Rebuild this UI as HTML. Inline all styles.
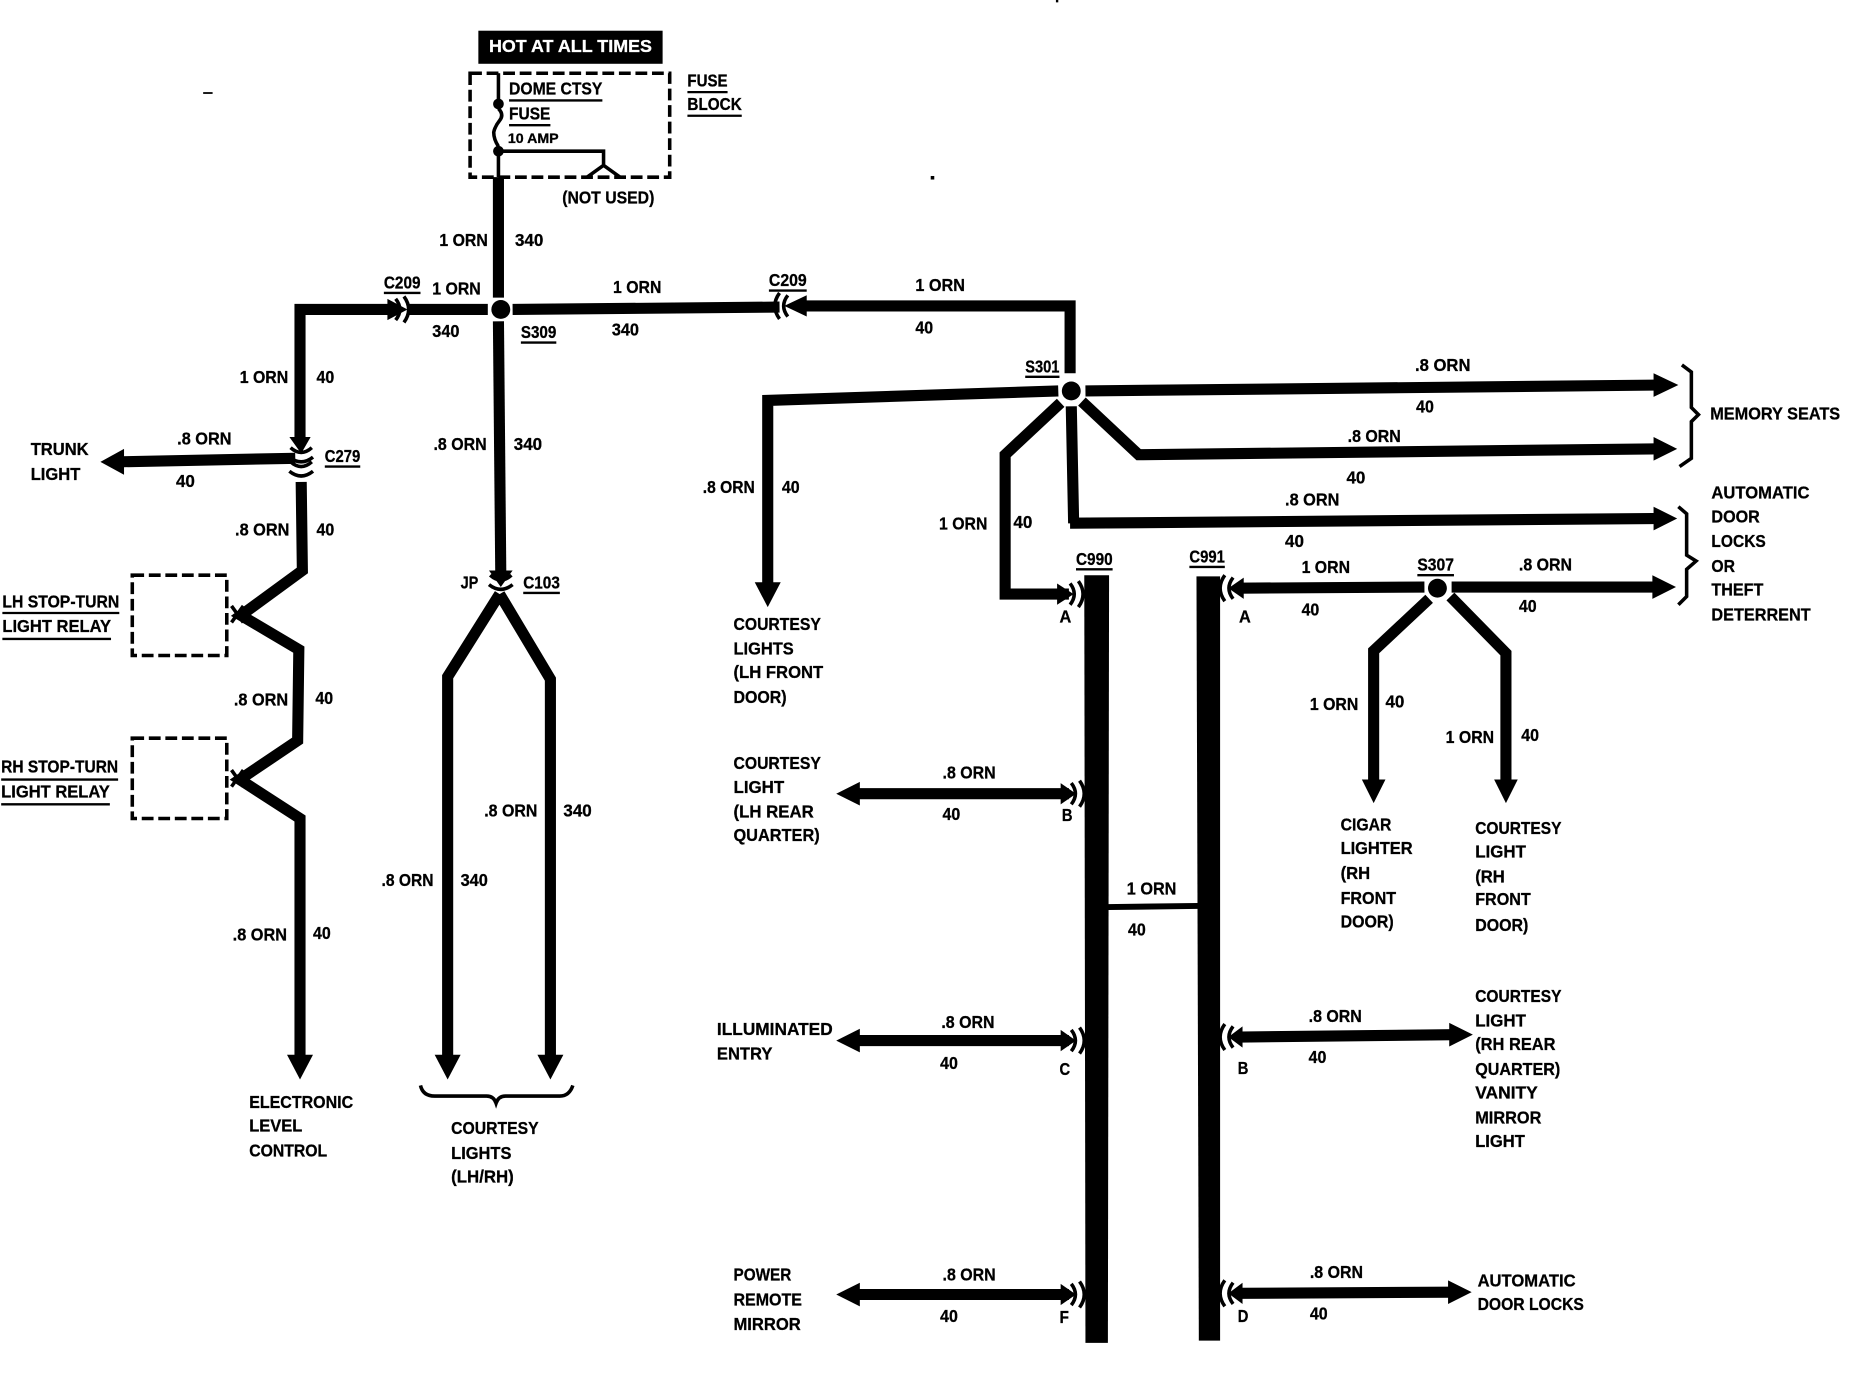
<!DOCTYPE html>
<html><head><meta charset="utf-8"><style>
html,body{margin:0;padding:0;background:#fff}
svg{display:block}
text{font-family:"Liberation Sans",sans-serif;font-weight:700;font-size:15px;fill:#000;stroke:#000;stroke-width:.25}
.w{fill:none;stroke:#000;stroke-width:9.4;stroke-linejoin:miter}
.u{fill:none;stroke:#000;stroke-width:2}
.c{fill:none;stroke:#000;stroke-width:3}
.d{fill:none;stroke:#000;stroke-width:3;stroke-dasharray:10 4}
</style></head><body>
<svg xmlns="http://www.w3.org/2000/svg" width="1852" height="1376" viewBox="0 0 1568 1165">
<rect width="1568" height="1165" fill="#fff"/>
<defs>
<g id="cr"><path class="c" d="M-7,-9 Q0,0 -7,9M0,-11 Q8,0 0,11"/></g>
<g id="cl"><path class="c" d="M7,-9 Q0,0 7,9M0,-11 Q-8,0 0,11"/></g>
<g id="cd"><path class="c" d="M-9,-7 Q0,1 9,-7M-10,1 Q0,9 10,1"/></g>
</defs>

<!-- header / fuse block -->
<rect x="405" y="26" width="156" height="28" fill="#000"/>
<rect class="d" x="398" y="62" width="169" height="88"/>
<path class="c" d="M422,62V88"/>
<circle cx="422" cy="88" r="4.5"/>
<path class="c" stroke-width="2" d="M422,92q5,5 1,10t-5,10q0,6 4,12"/>
<circle cx="422" cy="128" r="4.5"/>
<path class="c" d="M422,128V150M422,128H511V141M497,150L511,140L525,150"/>

<!-- main wires -->
<path class="w" d="M422,150V252"/>
<path class="w" d="M336,262H254V372"/>
<path class="w" d="M345,262H413M434,262L660,260"/>
<path class="w" d="M680,259H906V316"/>
<circle cx="424" cy="262" r="8"/>
<path class="w" d="M422,272L424,488"/>
<polygon points="328,253 345,262 328,271"/>
<use href="#cr" x="342" y="262"/>
<polygon points="683,250 664,259 683,268"/>
<use href="#cl" x="660" y="259"/>

<!-- left column -->
<polygon points="245,370 263,370 255,384"/>
<use href="#cd" x="255" y="386"/>
<use href="#cd" x="255" y="398"/>
<path class="w" d="M250,388L100,391"/>
<polygon points="105,380 85,391 105,402"/>
<path class="w" d="M255,408L256,483L204,521L253,550L252,627L203,660L254,693V895"/>
<polygon points="243,893 265,893 254,914"/>
<rect class="d" x="112" y="487" width="80" height="68" stroke-width="2.5"/>
<rect class="d" x="112" y="625" width="80" height="68" stroke-width="2.5"/>
<path class="c" d="M196,513L206,527M196,527L206,513M196,652L206,666M196,666L206,652"/>

<!-- center Y -->
<polygon points="414,483 434,483 424,497"/>
<use href="#cd" x="424" y="494"/>
<path class="w" d="M423,503L379,573V895M423,503L466,575V895"/>
<polygon points="368,893 390,893 379,914"/>
<polygon points="455,893 477,893 466,914"/>
<path class="c" stroke-width="2" d="M356,919Q358,928 368,928H412Q418,928 420,934Q422,928 428,928H474Q482,928 485,919"/>

<!-- S301 -->
<circle cx="907" cy="331" r="8"/>
<path class="w" d="M896,331L650,339V495"/>
<polygon points="639,493 661,493 650,514"/>
<path class="w" d="M919,331L1405,326"/>
<polygon points="1400,316 1421,326 1400,336"/>
<path class="w" d="M916,340L964,385L1405,380"/>
<polygon points="1400,370 1420,380 1400,390"/>
<path class="w" d="M907,344L909,443L906,443L1405,439"/>
<polygon points="1400,429 1420,439 1400,449"/>
<path class="w" d="M898,341L851,385V503H905"/>
<polygon points="895,494 909,503 895,512"/>
<use href="#cr" x="913" y="503"/>

<!-- braces -->
<path class="c" stroke-width="2" d="M1424,309L1432,315V345L1438,351L1432,357V388L1422,395"/>
<path class="c" stroke-width="2" d="M1421,429L1428,435V470L1436,475L1428,482V505L1421,512"/>

<!-- bars -->
<polygon points="918,487 939,487 938,1137 919,1137"/>
<polygon points="1013,488 1033,488 1033,1135 1015,1135"/>
<path fill="none" stroke="#000" stroke-width="5" d="M938,768L1014,767"/>

<!-- S307 -->
<circle cx="1217" cy="498" r="8"/>
<path class="w" d="M1048,498L1206,497"/>
<polygon points="1053,489 1040,498 1053,507"/>
<use href="#cl" x="1037" y="498"/>
<path class="w" d="M1229,497H1405"/>
<polygon points="1399,487 1419,497 1399,507"/>
<path class="w" d="M1210,507L1163,551V662"/>
<polygon points="1153,660 1173,660 1163,680"/>
<path class="w" d="M1228,505L1275,553V662"/>
<polygon points="1265,660 1285,660 1275,680"/>

<!-- horizontals -->
<path class="w" d="M725,672H905"/><polygon points="728,662 708,672 728,682"/>
<polygon points="898,663 911,672 898,681"/><use href="#cr" x="914" y="672"/>
<path class="w" d="M725,881H905"/><polygon points="728,871 708,881 728,891"/>
<polygon points="898,872 911,881 898,890"/><use href="#cr" x="914" y="881"/>
<path class="w" d="M725,1096H905"/><polygon points="728,1086 708,1096 728,1106"/>
<polygon points="898,1087 911,1096 898,1105"/><use href="#cr" x="914" y="1096"/>
<path class="w" d="M1050,878L1230,876"/><polygon points="1227,866 1247,876 1227,886"/>
<polygon points="1052,869 1040,878 1052,887"/><use href="#cl" x="1037" y="878"/>
<path class="w" d="M1050,1095L1230,1094"/><polygon points="1226,1084 1246,1094 1226,1104"/>
<polygon points="1052,1086 1040,1095 1052,1104"/><use href="#cl" x="1037" y="1095"/>

<!-- underlines -->
<path class="u" d="M431,85H510M431,106H466M582,78H616M582,98H628M325,248H356M441,290H471M651,246H683M868,319H897M275,395H305M2,519H101M2,541H94M1,660H100M1,681H93M443,502H474M911,482H942M1007,480H1037M1200,487H1231"/>

<!-- specks -->
<rect x="172" y="78" width="8" height="1.5"/><rect x="788" y="149" width="3" height="3"/><rect x="894" y="0" width="2" height="2"/>

<!-- text -->
<g transform="translate(0,-0.8)">
<text x="414" y="45" textLength="138" lengthAdjust="spacingAndGlyphs" style="fill:#fff;stroke:#fff">HOT AT ALL TIMES</text>
<text x="431" y="81" textLength="79" lengthAdjust="spacingAndGlyphs">DOME CTSY</text>
<text x="431" y="102" textLength="35" lengthAdjust="spacingAndGlyphs">FUSE</text>
<text x="430" y="122" textLength="43" lengthAdjust="spacingAndGlyphs" style="font-size:12px">10 AMP</text>
<text x="582" y="74" textLength="34" lengthAdjust="spacingAndGlyphs">FUSE</text>
<text x="582" y="94" textLength="46" lengthAdjust="spacingAndGlyphs">BLOCK</text>
<text x="476" y="173" textLength="78" lengthAdjust="spacingAndGlyphs">(NOT USED)</text>
<text x="372" y="209" textLength="41" lengthAdjust="spacingAndGlyphs">1 ORN</text>
<text x="436" y="209" textLength="24" lengthAdjust="spacingAndGlyphs">340</text>
<text x="325" y="245" textLength="31" lengthAdjust="spacingAndGlyphs">C209</text>
<text x="366" y="250" textLength="41" lengthAdjust="spacingAndGlyphs">1 ORN</text>
<text x="366" y="286" textLength="23" lengthAdjust="spacingAndGlyphs">340</text>
<text x="441" y="287" textLength="30" lengthAdjust="spacingAndGlyphs">S309</text>
<text x="519" y="249" textLength="41" lengthAdjust="spacingAndGlyphs">1 ORN</text>
<text x="518" y="285" textLength="23" lengthAdjust="spacingAndGlyphs">340</text>
<text x="651" y="243" textLength="32" lengthAdjust="spacingAndGlyphs">C209</text>
<text x="775" y="247" textLength="42" lengthAdjust="spacingAndGlyphs">1 ORN</text>
<text x="775" y="283" textLength="15" lengthAdjust="spacingAndGlyphs">40</text>
<text x="203" y="325" textLength="41" lengthAdjust="spacingAndGlyphs">1 ORN</text>
<text x="268" y="325" textLength="15" lengthAdjust="spacingAndGlyphs">40</text>
<text x="868" y="316" textLength="29" lengthAdjust="spacingAndGlyphs">S301</text>
<text x="1198" y="315" textLength="47" lengthAdjust="spacingAndGlyphs">.8 ORN</text>
<text x="1199" y="350" textLength="15" lengthAdjust="spacingAndGlyphs">40</text>
<text x="1141" y="375" textLength="45" lengthAdjust="spacingAndGlyphs">.8 ORN</text>
<text x="1140" y="410" textLength="16" lengthAdjust="spacingAndGlyphs">40</text>
<text x="1088" y="429" textLength="46" lengthAdjust="spacingAndGlyphs">.8 ORN</text>
<text x="1088" y="464" textLength="16" lengthAdjust="spacingAndGlyphs">40</text>
<text x="1448" y="356" textLength="110" lengthAdjust="spacingAndGlyphs">MEMORY SEATS</text>
<text x="1449" y="423" textLength="83" lengthAdjust="spacingAndGlyphs">AUTOMATIC</text>
<text x="1449" y="443" textLength="41" lengthAdjust="spacingAndGlyphs">DOOR</text>
<text x="1449" y="464" textLength="46" lengthAdjust="spacingAndGlyphs">LOCKS</text>
<text x="1449" y="485" textLength="20" lengthAdjust="spacingAndGlyphs">OR</text>
<text x="1449" y="505" textLength="44" lengthAdjust="spacingAndGlyphs">THEFT</text>
<text x="1449" y="526" textLength="84" lengthAdjust="spacingAndGlyphs">DETERRENT</text>
<text x="150" y="377" textLength="46" lengthAdjust="spacingAndGlyphs">.8 ORN</text>
<text x="149" y="413" textLength="16" lengthAdjust="spacingAndGlyphs">40</text>
<text x="26" y="386" textLength="49" lengthAdjust="spacingAndGlyphs">TRUNK</text>
<text x="26" y="407" textLength="42" lengthAdjust="spacingAndGlyphs">LIGHT</text>
<text x="275" y="392" textLength="30" lengthAdjust="spacingAndGlyphs">C279</text>
<text x="199" y="454" textLength="46" lengthAdjust="spacingAndGlyphs">.8 ORN</text>
<text x="268" y="454" textLength="15" lengthAdjust="spacingAndGlyphs">40</text>
<text x="2" y="515" textLength="99" lengthAdjust="spacingAndGlyphs">LH STOP-TURN</text>
<text x="2" y="536" textLength="92" lengthAdjust="spacingAndGlyphs">LIGHT RELAY</text>
<text x="198" y="598" textLength="46" lengthAdjust="spacingAndGlyphs">.8 ORN</text>
<text x="267" y="597" textLength="15" lengthAdjust="spacingAndGlyphs">40</text>
<text x="1" y="655" textLength="99" lengthAdjust="spacingAndGlyphs">RH STOP-TURN</text>
<text x="1" y="676" textLength="92" lengthAdjust="spacingAndGlyphs">LIGHT RELAY</text>
<text x="197" y="797" textLength="46" lengthAdjust="spacingAndGlyphs">.8 ORN</text>
<text x="265" y="796" textLength="15" lengthAdjust="spacingAndGlyphs">40</text>
<text x="211" y="939" textLength="88" lengthAdjust="spacingAndGlyphs">ELECTRONIC</text>
<text x="211" y="959" textLength="45" lengthAdjust="spacingAndGlyphs">LEVEL</text>
<text x="211" y="980" textLength="66" lengthAdjust="spacingAndGlyphs">CONTROL</text>
<text x="367" y="382" textLength="45" lengthAdjust="spacingAndGlyphs">.8 ORN</text>
<text x="435" y="382" textLength="24" lengthAdjust="spacingAndGlyphs">340</text>
<text x="390" y="499" textLength="15" lengthAdjust="spacingAndGlyphs">JP</text>
<text x="443" y="499" textLength="31" lengthAdjust="spacingAndGlyphs">C103</text>
<text x="410" y="692" textLength="45" lengthAdjust="spacingAndGlyphs">.8 ORN</text>
<text x="477" y="692" textLength="24" lengthAdjust="spacingAndGlyphs">340</text>
<text x="323" y="751" textLength="44" lengthAdjust="spacingAndGlyphs">.8 ORN</text>
<text x="390" y="751" textLength="23" lengthAdjust="spacingAndGlyphs">340</text>
<text x="382" y="961" textLength="74" lengthAdjust="spacingAndGlyphs">COURTESY</text>
<text x="382" y="982" textLength="51" lengthAdjust="spacingAndGlyphs">LIGHTS</text>
<text x="382" y="1002" textLength="53" lengthAdjust="spacingAndGlyphs">(LH/RH)</text>
<text x="595" y="418" textLength="44" lengthAdjust="spacingAndGlyphs">.8 ORN</text>
<text x="662" y="418" textLength="15" lengthAdjust="spacingAndGlyphs">40</text>
<text x="621" y="534" textLength="74" lengthAdjust="spacingAndGlyphs">COURTESY</text>
<text x="621" y="555" textLength="51" lengthAdjust="spacingAndGlyphs">LIGHTS</text>
<text x="621" y="575" textLength="76" lengthAdjust="spacingAndGlyphs">(LH FRONT</text>
<text x="621" y="596" textLength="45" lengthAdjust="spacingAndGlyphs">DOOR)</text>
<text x="795" y="449" textLength="41" lengthAdjust="spacingAndGlyphs">1 ORN</text>
<text x="858" y="448" textLength="16" lengthAdjust="spacingAndGlyphs">40</text>
<text x="911" y="479" textLength="31" lengthAdjust="spacingAndGlyphs">C990</text>
<text x="897" y="528" textLength="10" lengthAdjust="spacingAndGlyphs">A</text>
<text x="1007" y="477" textLength="30" lengthAdjust="spacingAndGlyphs">C991</text>
<text x="1049" y="528" textLength="10" lengthAdjust="spacingAndGlyphs">A</text>
<text x="1102" y="486" textLength="41" lengthAdjust="spacingAndGlyphs">1 ORN</text>
<text x="1102" y="522" textLength="15" lengthAdjust="spacingAndGlyphs">40</text>
<text x="1200" y="484" textLength="31" lengthAdjust="spacingAndGlyphs">S307</text>
<text x="1286" y="484" textLength="45" lengthAdjust="spacingAndGlyphs">.8 ORN</text>
<text x="1286" y="519" textLength="15" lengthAdjust="spacingAndGlyphs">40</text>
<text x="1109" y="602" textLength="41" lengthAdjust="spacingAndGlyphs">1 ORN</text>
<text x="1173" y="600" textLength="16" lengthAdjust="spacingAndGlyphs">40</text>
<text x="1224" y="630" textLength="41" lengthAdjust="spacingAndGlyphs">1 ORN</text>
<text x="1288" y="628" textLength="15" lengthAdjust="spacingAndGlyphs">40</text>
<text x="1135" y="704" textLength="43" lengthAdjust="spacingAndGlyphs">CIGAR</text>
<text x="1135" y="724" textLength="61" lengthAdjust="spacingAndGlyphs">LIGHTER</text>
<text x="1135" y="745" textLength="25" lengthAdjust="spacingAndGlyphs">(RH</text>
<text x="1135" y="766" textLength="47" lengthAdjust="spacingAndGlyphs">FRONT</text>
<text x="1135" y="786" textLength="45" lengthAdjust="spacingAndGlyphs">DOOR)</text>
<text x="1249" y="707" textLength="73" lengthAdjust="spacingAndGlyphs">COURTESY</text>
<text x="1249" y="727" textLength="43" lengthAdjust="spacingAndGlyphs">LIGHT</text>
<text x="1249" y="748" textLength="25" lengthAdjust="spacingAndGlyphs">(RH</text>
<text x="1249" y="767" textLength="47" lengthAdjust="spacingAndGlyphs">FRONT</text>
<text x="1249" y="789" textLength="45" lengthAdjust="spacingAndGlyphs">DOOR)</text>
<text x="621" y="652" textLength="74" lengthAdjust="spacingAndGlyphs">COURTESY</text>
<text x="621" y="672" textLength="43" lengthAdjust="spacingAndGlyphs">LIGHT</text>
<text x="621" y="693" textLength="68" lengthAdjust="spacingAndGlyphs">(LH REAR</text>
<text x="621" y="713" textLength="73" lengthAdjust="spacingAndGlyphs">QUARTER)</text>
<text x="798" y="660" textLength="45" lengthAdjust="spacingAndGlyphs">.8 ORN</text>
<text x="798" y="695" textLength="15" lengthAdjust="spacingAndGlyphs">40</text>
<text x="899" y="696" textLength="9" lengthAdjust="spacingAndGlyphs">B</text>
<text x="954" y="758" textLength="42" lengthAdjust="spacingAndGlyphs">1 ORN</text>
<text x="955" y="793" textLength="15" lengthAdjust="spacingAndGlyphs">40</text>
<text x="607" y="877" textLength="98" lengthAdjust="spacingAndGlyphs">ILLUMINATED</text>
<text x="607" y="898" textLength="47" lengthAdjust="spacingAndGlyphs">ENTRY</text>
<text x="797" y="871" textLength="45" lengthAdjust="spacingAndGlyphs">.8 ORN</text>
<text x="796" y="906" textLength="15" lengthAdjust="spacingAndGlyphs">40</text>
<text x="897" y="911" textLength="9" lengthAdjust="spacingAndGlyphs">C</text>
<text x="1108" y="866" textLength="45" lengthAdjust="spacingAndGlyphs">.8 ORN</text>
<text x="1108" y="901" textLength="15" lengthAdjust="spacingAndGlyphs">40</text>
<text x="1048" y="910" textLength="9" lengthAdjust="spacingAndGlyphs">B</text>
<text x="1249" y="849" textLength="73" lengthAdjust="spacingAndGlyphs">COURTESY</text>
<text x="1249" y="870" textLength="43" lengthAdjust="spacingAndGlyphs">LIGHT</text>
<text x="1249" y="890" textLength="68" lengthAdjust="spacingAndGlyphs">(RH REAR</text>
<text x="1249" y="911" textLength="72" lengthAdjust="spacingAndGlyphs">QUARTER)</text>
<text x="1249" y="931" textLength="53" lengthAdjust="spacingAndGlyphs">VANITY</text>
<text x="1249" y="952" textLength="56" lengthAdjust="spacingAndGlyphs">MIRROR</text>
<text x="1249" y="972" textLength="42" lengthAdjust="spacingAndGlyphs">LIGHT</text>
<text x="621" y="1085" textLength="49" lengthAdjust="spacingAndGlyphs">POWER</text>
<text x="621" y="1106" textLength="58" lengthAdjust="spacingAndGlyphs">REMOTE</text>
<text x="621" y="1127" textLength="57" lengthAdjust="spacingAndGlyphs">MIRROR</text>
<text x="798" y="1085" textLength="45" lengthAdjust="spacingAndGlyphs">.8 ORN</text>
<text x="796" y="1120" textLength="15" lengthAdjust="spacingAndGlyphs">40</text>
<text x="897" y="1121" textLength="8" lengthAdjust="spacingAndGlyphs">F</text>
<text x="1109" y="1083" textLength="45" lengthAdjust="spacingAndGlyphs">.8 ORN</text>
<text x="1109" y="1118" textLength="15" lengthAdjust="spacingAndGlyphs">40</text>
<text x="1048" y="1120" textLength="9" lengthAdjust="spacingAndGlyphs">D</text>
<text x="1251" y="1090" textLength="83" lengthAdjust="spacingAndGlyphs">AUTOMATIC</text>
<text x="1251" y="1110" textLength="90" lengthAdjust="spacingAndGlyphs">DOOR LOCKS</text>
</g>
</svg>
</body></html>
